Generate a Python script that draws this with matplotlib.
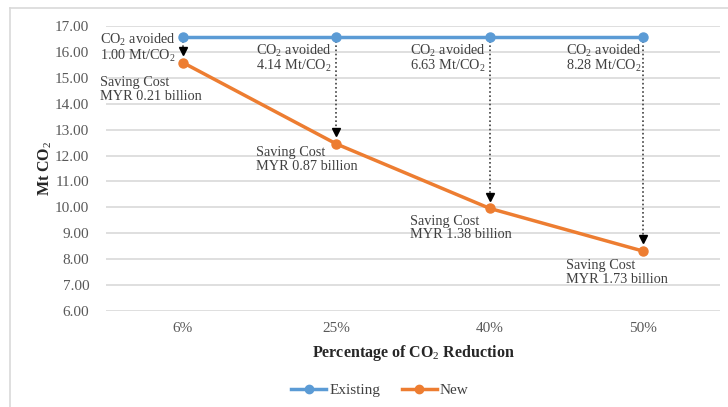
import matplotlib
matplotlib.use("Agg")
import matplotlib.pyplot as plt
from matplotlib.lines import Line2D

plt.rcParams["font.family"] = ["Liberation Serif", "DejaVu Serif"]
plt.rcParams["mathtext.fontset"] = "custom"
plt.rcParams["mathtext.rm"] = "Liberation Serif"
plt.rcParams["mathtext.it"] = "Liberation Serif:italic"
plt.rcParams["mathtext.bf"] = "Liberation Serif:bold"

# Data
categories = ["6%", "25%", "40%", "50%"]
existing = [16.59, 16.59, 16.59, 16.59]
co2_avoided = [1.00, 4.14, 6.63, 8.28]
new = [round(e - a, 2) for e, a in zip(existing, co2_avoided)]
saving_cost = [0.21, 0.87, 1.38, 1.73]
y_ticks = [6, 7, 8, 9, 10, 11, 12, 13, 14, 15, 16, 17]

blue = "#5B9BD5"
orange = "#ED7D31"
grid_c = "#D9D9D9"
text_c = "#404040"

fig = plt.figure(figsize=(7.28, 4.07), dpi=100)
ax = fig.add_axes([106 / 728, 1 - 311 / 407, (720 - 106) / 728, (311 - 26) / 407])

x = list(range(len(categories)))

ax.set_xlim(-0.5, len(categories) - 0.5)
ax.set_ylim(6, 17)
ax.set_yticks(y_ticks)
ax.set_yticklabels([f"{v:.2f}" for v in y_ticks])
ax.set_xticks(x)
ax.set_xticklabels(categories)
ax.yaxis.grid(True, color=grid_c, linewidth=1.2)
ax.set_axisbelow(True)
for s in ax.spines.values():
    s.set_visible(False)
ax.tick_params(axis="both", length=0, labelsize=11, colors="#595959")
ax.tick_params(axis="y", pad=12)
ax.tick_params(axis="x", pad=8)

# Dotted reduction arrows from the existing level down to each new value
for xi, e, n in zip(x, existing, new):
    tip = n + 0.45
    ax.plot([xi, xi], [e, tip], linestyle=(0, (1, 1.5)), color="#404040",
            linewidth=1.2, zorder=2)
    ax.plot([xi], [tip], marker="v", color="black", markersize=6, zorder=3)

ax.plot(x, existing, color=blue, linewidth=2.5, marker="o", markersize=6.5,
        label="Existing", zorder=4)
ax.plot(x, new, color=orange, linewidth=2.5, marker="o", markersize=6.5,
        label="New", zorder=4)

# Annotations (offsets in data units relative to each category)
avoid_dx = [-0.54, -0.52, -0.52, -0.50]
avoid_y = [16.15, 15.75, 15.75, 15.75]
cost_dx = [-0.54, -0.52, -0.52, -0.50]
cost_y = [14.55, 11.85, 9.2, 7.5]
for i in x:
    ax.text(i + avoid_dx[i], avoid_y[i],
            "CO$_2$ avoided\n" + f"{co2_avoided[i]:.2f} Mt/CO$_2$",
            fontsize=10.3, color=text_c, va="center", ha="left", linespacing=0.95)
    ax.text(i + cost_dx[i], cost_y[i],
            "Saving Cost\n" + f"MYR {saving_cost[i]:.2f} billion",
            fontsize=10.3, color=text_c, va="center", ha="left", linespacing=1.08)

ax.set_ylabel("Mt CO$_2$", fontsize=11.5, fontweight="bold", color="#262626",
              labelpad=1)
ax.set_xlabel("Percentage of CO$_2$ Reduction", fontsize=11.5, fontweight="bold",
              color="#262626", labelpad=6)

leg = fig.legend(handles=[
    Line2D([0], [0], color=blue, linewidth=2.5, marker="o", markersize=6),
    Line2D([0], [0], color=orange, linewidth=2.5, marker="o", markersize=6)],
    labels=["Existing", "New"], loc="center", bbox_to_anchor=(380 / 728, 1 - 390 / 407),
    ncol=2, frameon=False, fontsize=11, handlelength=2.3, handletextpad=0.2,
    columnspacing=1.4)
for t in leg.get_texts():
    t.set_color("#404040")

# Chart area border
fig.add_artist(Line2D([10 / 728, 10 / 728], [0, 1 - 8 / 407], color=grid_c,
                      linewidth=1.2, transform=fig.transFigure))
fig.add_artist(Line2D([10 / 728, 1], [1 - 8 / 407, 1 - 8 / 407], color=grid_c,
                      linewidth=1.2, transform=fig.transFigure))

fig.savefig("out.png", dpi=100)
